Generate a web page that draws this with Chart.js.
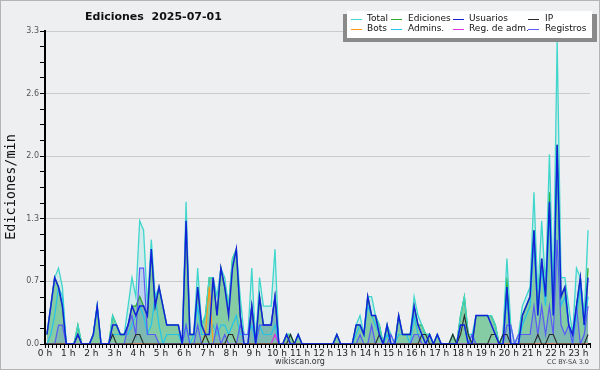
<!DOCTYPE html>
<html>
<head>
<meta charset="utf-8">
<script src="https://cdn.jsdelivr.net/npm/chart.js@4.4.1/dist/chart.umd.min.js"></script>
<style>
  html, body { margin: 0; padding: 0; background: #eeeff1; }
  #wrap { width: 600px; height: 370px; position: relative; }
</style>
</head>
<body>
<div id="wrap"><canvas id="editsChart" width="600" height="370"></canvas></div>
<script>
// 10-minute bins from 0:00 to 23:30, values in edits per minute
const chartTitle = "Ediciones  2025-07-01";
const yTitle = "Ediciones/min";
const hourLabels = ["0 h", "1 h", "2 h", "3 h", "4 h", "5 h", "6 h", "7 h", "8 h", "9 h", "10 h", "11 h",
    "12 h", "13 h", "14 h", "15 h", "16 h", "17 h", "18 h", "19 h", "20 h", "21 h", "22 h", "23 h"];
const seriesNames = ["Total", "Ediciones", "Usuarios", "IP", "Bots", "Admins.", "Reg. de adm.", "Registros"];

const total = [
    0.1, 0.4, 0.7, 0.8, 0.6, 0,
    0, 0, 0.2, 0, 0, 0,
    0.1, 0.4, 0, 0, 0, 0.3,
    0.2, 0.1, 0.1, 0.4, 0.7, 0.5,
    1.3, 1.2, 0.4, 1.1, 0.5, 0.6,
    0.4, 0.2, 0.2, 0.2, 0.2, 0,
    1.5, 0.1, 0.1, 0.8, 0.2, 0.3,
    0.7, 0.7, 0.5, 0.8, 0.7, 0.4,
    0.9, 1.0, 0.5, 0.1, 0.1, 0.8,
    0, 0.7, 0.4, 0.4, 0.4, 1.0,
    0, 0, 0.1, 0.1, 0, 0.1,
    0, 0, 0, 0, 0, 0,
    0, 0, 0, 0.1, 0, 0,
    0, 0, 0.2, 0.3, 0.1, 0.5,
    0.5, 0.3, 0.2, 0, 0.2, 0.1,
    0, 0.3, 0.1, 0.1, 0.1, 0.5,
    0.3, 0.2, 0.1, 0.1, 0, 0.1,
    0, 0, 0, 0.1, 0, 0.3,
    0.5, 0.1, 0.1, 0.3, 0.3, 0.3,
    0.3, 0.3, 0.2, 0, 0.1, 0.9,
    0.2, 0, 0.1, 0.4, 0.5, 0.6,
    1.6, 0.5, 1.3, 0.6, 2.0, 0.5,
    3.2, 0.7, 0.7, 0.4, 0.1, 0.8,
    0.7, 0.3, 1.2
];
const ediciones = [
    0.1, 0.4, 0.7, 0.6, 0.4, 0,
    0, 0, 0.2, 0, 0, 0,
    0.1, 0.4, 0, 0, 0, 0.3,
    0.2, 0.1, 0.1, 0.2, 0.4, 0.4,
    0.5, 0.4, 0.3, 1.0, 0.4, 0.6,
    0.4, 0.2, 0.2, 0.2, 0.2, 0,
    1.3, 0.1, 0.1, 0.6, 0.2, 0.3,
    0.7, 0.7, 0.3, 0.8, 0.6, 0.4,
    0.9, 1.0, 0.3, 0, 0, 0.4,
    0, 0.5, 0.2, 0.2, 0.2, 0.5,
    0, 0, 0.1, 0.1, 0, 0.1,
    0, 0, 0, 0, 0, 0,
    0, 0, 0, 0.1, 0, 0,
    0, 0, 0.2, 0.2, 0.1, 0.5,
    0.3, 0.3, 0.2, 0, 0.2, 0,
    0, 0.3, 0.1, 0.1, 0.1, 0.4,
    0.2, 0.2, 0.1, 0.1, 0, 0.1,
    0, 0, 0, 0.1, 0, 0.3,
    0.5, 0.1, 0, 0.3, 0.3, 0.3,
    0.3, 0.3, 0.2, 0, 0.1, 0.7,
    0, 0, 0, 0.3, 0.4, 0.5,
    1.2, 0.4, 0.9, 0.5, 1.6, 0.4,
    2.1, 0.5, 0.6, 0.2, 0.1, 0.4,
    0.7, 0.2, 0.8
];
const usuarios = [
    0.1, 0.4, 0.7, 0.6, 0.4, 0,
    0, 0, 0.1, 0, 0, 0,
    0.1, 0.4, 0, 0, 0, 0.2,
    0.2, 0.1, 0.1, 0.2, 0.4, 0.3,
    0.4, 0.4, 0.3, 1.0, 0.4, 0.6,
    0.4, 0.2, 0.2, 0.2, 0.2, 0,
    1.3, 0.1, 0.1, 0.6, 0.2, 0.1,
    0.1, 0.7, 0.3, 0.8, 0.6, 0.3,
    0.8, 1.0, 0.3, 0, 0, 0.4,
    0, 0.5, 0.2, 0.2, 0.2, 0.5,
    0, 0, 0.1, 0, 0, 0.1,
    0, 0, 0, 0, 0, 0,
    0, 0, 0, 0.1, 0, 0,
    0, 0, 0.2, 0.2, 0.1, 0.5,
    0.3, 0.3, 0.1, 0, 0.2, 0,
    0, 0.3, 0.1, 0.1, 0.1, 0.4,
    0.2, 0.1, 0, 0.1, 0, 0.1,
    0, 0, 0, 0, 0, 0.2,
    0.2, 0, 0, 0.3, 0.3, 0.3,
    0.3, 0.2, 0.1, 0, 0, 0.6,
    0, 0, 0, 0.3, 0.4, 0.5,
    1.2, 0.3, 0.9, 0.5, 1.5, 0.3,
    2.1, 0.5, 0.6, 0.2, 0.1, 0.4,
    0.7, 0.2, 0.7
];
const ip = [
    0, 0, 0, 0, 0, 0,
    0, 0, 0.1, 0, 0, 0,
    0, 0, 0, 0, 0, 0.1,
    0, 0, 0, 0, 0, 0.1,
    0.1, 0, 0, 0, 0, 0,
    0, 0, 0, 0, 0, 0,
    0, 0, 0, 0, 0, 0.1,
    0, 0, 0, 0, 0, 0.1,
    0.1, 0, 0, 0, 0, 0,
    0, 0, 0, 0, 0, 0,
    0, 0, 0, 0.1, 0, 0,
    0, 0, 0, 0, 0, 0,
    0, 0, 0, 0, 0, 0,
    0, 0, 0, 0, 0, 0,
    0, 0, 0.1, 0, 0, 0,
    0, 0, 0, 0, 0, 0,
    0, 0.1, 0.1, 0, 0, 0,
    0, 0, 0, 0.1, 0, 0.1,
    0.3, 0.1, 0, 0, 0, 0,
    0, 0.1, 0.1, 0, 0.1, 0.1,
    0, 0, 0, 0, 0, 0,
    0, 0.1, 0, 0, 0.1, 0.1,
    0, 0, 0, 0, 0, 0,
    0, 0, 0.1
];
const bots = [
    0, 0, 0, 0, 0, 0,
    0, 0, 0, 0, 0, 0,
    0, 0, 0, 0, 0, 0,
    0, 0, 0, 0, 0, 0,
    0, 0, 0, 0, 0, 0,
    0, 0, 0, 0, 0, 0,
    0, 0, 0, 0, 0, 0.1,
    0.6, 0, 0, 0, 0, 0,
    0, 0, 0, 0, 0, 0,
    0, 0, 0, 0, 0, 0,
    0, 0, 0, 0, 0, 0,
    0, 0, 0, 0, 0, 0,
    0, 0, 0, 0, 0, 0,
    0, 0, 0, 0, 0, 0,
    0, 0, 0, 0, 0, 0,
    0, 0, 0, 0, 0, 0,
    0, 0, 0, 0, 0, 0,
    0, 0, 0, 0, 0, 0,
    0, 0, 0, 0, 0, 0,
    0, 0, 0, 0, 0, 0,
    0, 0, 0, 0, 0, 0,
    0, 0, 0, 0, 0, 0,
    0, 0, 0, 0, 0, 0,
    0, 0, 0
];
const admins = [
    0, 0.1, 0.3, 0.6, 0.5, 0,
    0, 0, 0, 0, 0, 0,
    0.1, 0.4, 0, 0, 0, 0.1,
    0.1, 0.1, 0.1, 0.1, 0.2, 0.3,
    0.4, 0.3, 0.1, 0.2, 0.5, 0.2,
    0, 0.1, 0.1, 0.1, 0.1, 0,
    0.2, 0, 0.1, 0.4, 0.1, 0.1,
    0.1, 0.2, 0.1, 0.2, 0.2, 0.1,
    0.2, 0.3, 0.1, 0.1, 0.1, 0.2,
    0, 0.2, 0.1, 0.1, 0.1, 0.2,
    0, 0, 0, 0, 0, 0,
    0, 0, 0, 0, 0, 0,
    0, 0, 0, 0, 0, 0,
    0, 0, 0.1, 0.2, 0.1, 0.4,
    0.3, 0.2, 0.1, 0, 0.1, 0,
    0, 0.1, 0.1, 0.1, 0, 0.3,
    0.1, 0.1, 0, 0.1, 0, 0.1,
    0, 0, 0, 0, 0, 0.2,
    0.2, 0, 0.1, 0, 0, 0,
    0, 0, 0, 0, 0, 0.5,
    0, 0, 0, 0.2, 0.3, 0.4,
    1.1, 0.3, 0.8, 0.4, 1.4, 0.3,
    2.0, 0.4, 0.5, 0.2, 0, 0.3,
    0.6, 0.2, 0.5
];
const regAdm = [
    0, 0, 0, 0, 0, 0,
    0, 0, 0, 0, 0, 0,
    0, 0, 0, 0, 0, 0,
    0, 0, 0, 0, 0, 0,
    0, 0, 0, 0, 0, 0,
    0, 0, 0, 0, 0, 0,
    0, 0, 0, 0, 0, 0,
    0, 0, 0, 0, 0, 0,
    0, 0, 0, 0, 0, 0,
    0, 0, 0, 0, 0, 0.1,
    0, 0, 0, 0, 0, 0,
    0, 0, 0, 0, 0, 0,
    0, 0, 0, 0, 0, 0,
    0, 0, 0, 0, 0, 0,
    0, 0, 0, 0, 0, 0,
    0, 0, 0, 0, 0, 0,
    0, 0, 0, 0, 0, 0,
    0, 0, 0, 0, 0, 0,
    0, 0, 0, 0, 0, 0,
    0, 0, 0, 0, 0, 0,
    0, 0, 0, 0, 0, 0,
    0, 0, 0, 0, 0, 0,
    0, 0, 0, 0, 0, 0,
    0, 0, 0
];
const registros = [
    0, 0, 0, 0.2, 0.2, 0,
    0, 0, 0, 0, 0, 0,
    0, 0, 0, 0, 0, 0,
    0, 0, 0, 0.2, 0.3, 0.1,
    0.8, 0.8, 0.1, 0.1, 0.1, 0,
    0, 0, 0, 0, 0, 0,
    0.2, 0, 0, 0.2, 0, 0,
    0, 0, 0.2, 0, 0.1, 0,
    0, 0, 0.2, 0.1, 0.1, 0.4,
    0, 0.2, 0.2, 0.2, 0.2, 0.5,
    0, 0, 0, 0, 0, 0,
    0, 0, 0, 0, 0, 0,
    0, 0, 0, 0, 0, 0,
    0, 0, 0, 0.1, 0, 0,
    0.2, 0, 0, 0, 0, 0.1,
    0, 0, 0, 0, 0, 0.1,
    0.1, 0, 0, 0, 0, 0,
    0, 0, 0, 0, 0, 0,
    0, 0, 0.1, 0, 0, 0,
    0, 0, 0, 0, 0, 0.2,
    0.2, 0, 0.1, 0.1, 0.1, 0.1,
    0.4, 0.1, 0.4, 0.1, 0.4, 0.1,
    1.1, 0.2, 0.1, 0.2, 0, 0.4,
    0, 0.1, 0.4
];

const seriesValues = [total, ediciones, usuarios, ip, bots, admins, regAdm, registros];
const seriesStyles = [
    { color: "#3fd6cc", fill: "rgba(63,214,204,0.16)", width: 1.3, order: 7 },
    { color: "#2eae2e", fill: "rgba(48,163,67,0.48)", width: 1.3, order: 8 },
    { color: "#1222d8", fill: null, width: 1.5, order: 1 },
    { color: "#2a2a2a", fill: null, width: 1.1, order: 2 },
    { color: "#ff9a1a", fill: null, width: 1.2, order: 4 },
    { color: "#22c4ea", fill: null, width: 1.2, order: 6 },
    { color: "#e030e0", fill: null, width: 1.2, order: 5 },
    { color: "#5a5af5", fill: "rgba(90,90,240,0.16)", width: 1.2, order: 3 }
];
const nBins = total.length;

const datasets = seriesNames.map((name, k) => ({
    label: name,
    data: seriesValues[k].map((v, i) => ({ x: i + 0.5, y: v })),
    borderColor: seriesStyles[k].color,
    backgroundColor: seriesStyles[k].fill || "transparent",
    fill: seriesStyles[k].fill ? "origin" : false,
    borderWidth: seriesStyles[k].width,
    order: seriesStyles[k].order,
    pointRadius: 0,
    tension: 0
}));

// title, axis title, legend box and footer texts
const decorations = {
    id: "decorations",
    beforeDraw(chart) {
        const c = chart.ctx;
        c.save();
        c.fillStyle = "#eeeff1";
        c.fillRect(0, 0, chart.width, chart.height);
        c.restore();
    },
    afterDraw(chart) {
        const c = chart.ctx;
        c.save();
        c.strokeStyle = "#b4b4b4";
        c.lineWidth = 1;
        c.strokeRect(0.5, 0.5, chart.width - 1, chart.height - 1);

        c.fillStyle = "#111";
        c.textBaseline = "middle";
        c.textAlign = "left";
        c.font = "bold 11px 'DejaVu Sans'";
        c.fillText(chartTitle, 85, 17);

        c.save();
        c.translate(11, 187);
        c.rotate(-Math.PI / 2);
        c.textAlign = "center";
        c.font = "13.5px 'DejaVu Sans Mono'";
        c.fillText(yTitle, 0, 0);
        c.restore();

        c.font = "8px 'DejaVu Sans'";
        c.fillStyle = "#333";
        c.textAlign = "center";
        c.fillText("wikiscan.org", 300, 362);
        c.font = "6.5px 'DejaVu Sans'";
        c.fillStyle = "#444";
        c.textAlign = "right";
        c.fillText("CC BY-SA 3.0", 589, 362);

        // legend
        c.fillStyle = "#8a8a8a";
        c.fillRect(343, 14, 254, 28);
        c.fillStyle = "#ffffff";
        c.fillRect(347, 11, 245, 27);
        const lineX = [351, 391, 453, 528];
        const textX = [367, 408, 469, 545];
        const rowY = [19, 29];
        c.font = "9px 'DejaVu Sans'";
        c.textAlign = "left";
        chart.data.datasets.forEach((ds, k) => {
            const col = k % 4, row = Math.floor(k / 4);
            c.strokeStyle = ds.borderColor;
            c.lineWidth = 1;
            c.beginPath();
            c.moveTo(lineX[col], rowY[row] + 0.5);
            c.lineTo(lineX[col] + 11, rowY[row] + 0.5);
            c.stroke();
            c.fillStyle = "#111";
            c.fillText(ds.label, textX[col], rowY[row]);
        });
        c.restore();
    }
};

Chart.defaults.font.family = "'DejaVu Sans'";

const editsChart = new Chart(document.getElementById("editsChart"), {
    type: "line",
    data: { datasets: datasets },
    options: {
        responsive: false,
        animation: false,
        events: [],
        layout: { padding: { top: 31, right: 10, bottom: 0, left: 0 } },
        plugins: {
            legend: { display: false },
            title: { display: false },
            tooltip: { enabled: false },
            filler: { drawTime: "beforeDatasetsDraw" }
        },
        scales: {
            x: {
                type: "linear",
                min: 0,
                max: nBins,
                afterFit: (scale) => { scale.height = 26; },
                border: { color: "#000", width: 2 },
                grid: { drawOnChartArea: false, tickLength: 4, tickColor: "#000" },
                ticks: {
                    stepSize: 1,
                    autoSkip: false,
                    maxRotation: 0,
                    padding: 0,
                    color: "#222",
                    font: { size: 9 },
                    callback: (v) => (v % 6 === 0 && v / 6 < hourLabels.length) ? hourLabels[v / 6] : ""
                }
            },
            y: {
                min: 0,
                max: 3.3,
                afterFit: (scale) => { scale.width = 45; },
                border: { color: "#000", width: 2 },
                grid: {
                    color: (ctx) => ctx.index % 4 === 0 ? "#cbcbcb" : "rgba(0,0,0,0)",
                    tickColor: "#000",
                    tickLength: 5
                },
                ticks: {
                    count: 21,
                    autoSkip: false,
                    padding: 1,
                    color: "#555",
                    font: { size: 8 },
                    callback: (v, i) => i % 4 === 0 ? v.toFixed(1) : ""
                }
            }
        }
    },
    plugins: [decorations]
});
</script>
</body>
</html>
